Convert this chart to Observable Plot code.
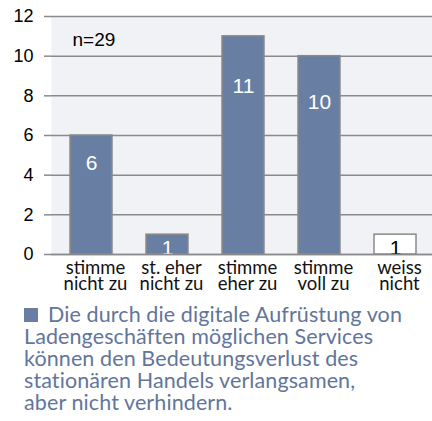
<!DOCTYPE html>
<html>
<head>
<meta charset="utf-8">
<script src="https://cdn.jsdelivr.net/npm/d3@7"></script>
<script src="https://cdn.jsdelivr.net/npm/@observablehq/plot@0.6"></script>
<style>
  html, body { margin: 0; padding: 0; background: #fff; }
  #chart { width: 432px; }
  #caption {
    font-family: Lato, "Open Sans", sans-serif;
    font-size: 21.5px;
    font-weight: 400;
    letter-spacing: 0.1px;
    line-height: 22px;
    color: #62759a;
    padding: 3px 0 0 24px;
    white-space: nowrap;
  }
  #caption .sq { display: inline-block; width: 14px; height: 14px; background: #6a7ea2; margin-right: 10px; vertical-align: 0px; }
</style>
</head>
<body>
<div id="chart"></div>
<div id="caption"><span class="sq"></span>Die durch die digitale Aufrüstung von<br>Ladengeschäften möglichen Services<br>können den Bedeutungsverlust des<br>stationären Handels verlangsamen,<br>aber nicht verhindern.</div>
<script>
const categories = ["stimme\nnicht zu", "st. eher\nnicht zu", "stimme\neher zu", "stimme\nvoll zu", "weiss\nnicht"];
const counts = [6, 1, 11, 10, 1];
const highlighted = [true, true, true, true, false];
const yTicks = [0, 2, 4, 6, 8, 10, 12];
const note = "n=29";

const data = categories.map((c, i) => ({cat: c, n: counts[i], main: highlighted[i]}));

const chart = Plot.plot({
  width: 432,
  height: 300,
  marginTop: 16,
  marginBottom: 46,
  marginLeft: 51,
  marginRight: -2,
  style: {background: "transparent", overflow: "visible"},
  x: {domain: categories, paddingInner: 0.45, paddingOuter: 0.225, label: null},
  y: {domain: [0, 12], ticks: yTicks, label: null},
  marks: [
    Plot.frame({fill: "#f1f2f6", stroke: null}),
    Plot.gridY(yTicks, {stroke: "#8a8a8a", strokeOpacity: 1, strokeWidth: 1.5}),
    Plot.ruleX([0], {frameAnchor: "left", stroke: "#8a8a8a", strokeWidth: 1.5}),
    Plot.barY(data, {x: "cat", y: "n", fill: d => d.main ? "#687ea2" : "#ffffff", stroke: "#8a8a8a", strokeWidth: 1.5}),
    Plot.text(data, {x: "cat", y: d => d.n > 1 ? d.n * 0.77 : 0.3, text: d => String(d.n),
      fill: d => d.main ? "#ffffff" : "#000000", fontSize: 21, fontFamily: "Liberation Sans, Arial, sans-serif", lineAnchor: "middle"}),
    Plot.ruleY([0], {stroke: "#8a8a8a", strokeWidth: 1.5}),
    Plot.axisY(yTicks, {tickSize: 7, tickPadding: 11, stroke: "#8a8a8a", strokeWidth: 1.5, fontSize: 18,
      fontFamily: "Liberation Sans, Arial, sans-serif", fill: "#000", tickFormat: d => String(d)}),
    Plot.axisX({tickSize: 0, tickPadding: 8, dx: 4, fontSize: 18.5, fontWeight: 400, lineHeight: 0.88, fontFamily: "Lato, sans-serif", fill: "#111"}),
    Plot.text([note], {frameAnchor: "top-left", dx: 21, dy: 23, textAnchor: "start", lineAnchor: "middle",
      fontSize: 19, letterSpacing: 0.8, fontFamily: "Liberation Sans, Arial, sans-serif", fill: "#000"})
  ]
});
document.getElementById("chart").appendChild(chart);
</script>
</body>
</html>
